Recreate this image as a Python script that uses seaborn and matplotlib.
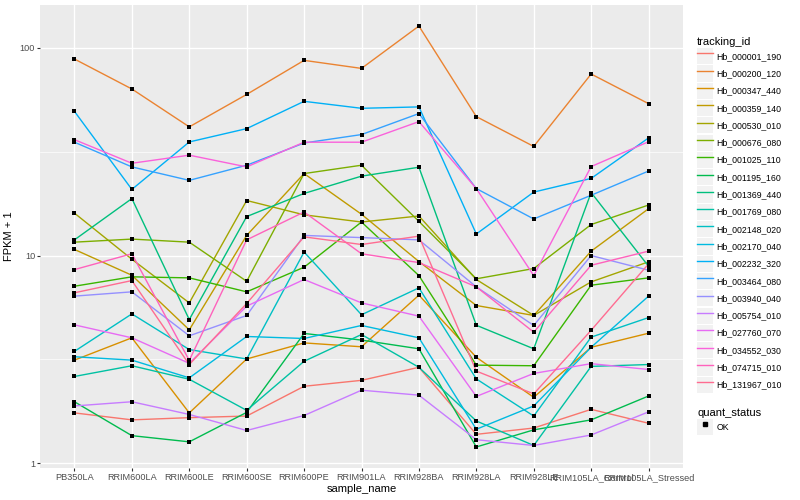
import numpy as np
import pandas as pd
import seaborn as sns
import matplotlib
matplotlib.use('Agg')
import matplotlib.pyplot as plt
from matplotlib.lines import Line2D
from matplotlib.patches import Rectangle
from matplotlib.legend_handler import HandlerLine2D
from matplotlib.ticker import FixedLocator, NullFormatter, NullLocator

# samples on the x axis
samples = ['PB350LA', 'RRIM600LA', 'RRIM600LE', 'RRIM600SE', 'RRIM600PE', 'RRIM901LA',
           'RRIM928BA', 'RRIM928LA', 'RRIM928LE', 'RRIM105LA_Control', 'RRIM105LA_Stressed']

# FPKM + 1 per gene
hb_000001_190 = [1.75, 1.62, 1.66, 1.69, 2.35, 2.51, 2.90, 1.38, 1.48, 1.82, 1.56]
hb_000200_120 = [88.2, 63.3, 41.6, 59.6, 86.9, 79.5, 127.1, 46.6, 33.5, 74.7, 53.8]
hb_000347_440 = [3.14, 4.02, 1.75, 3.18, 3.80, 3.64, 6.45, 3.24, 2.08, 3.62, 4.23]
hb_000359_140 = [10.7, 8.04, 4.39, 12.5, 24.8, 15.8, 9.36, 5.75, 5.15, 10.5, 16.8]
hb_000530_010 = [16.0, 9.60, 5.92, 18.4, 15.7, 14.5, 15.5, 7.67, 5.15, 7.47, 9.33]
hb_000676_080 = [11.6, 12.0, 11.6, 7.52, 24.8, 27.2, 14.6, 7.73, 8.66, 14.1, 17.5]
hb_001025_110 = [7.12, 7.90, 7.81, 6.69, 8.79, 14.5, 8.01, 2.97, 2.95, 7.20, 7.81]
hb_001195_160 = [1.98, 1.36, 1.27, 1.76, 4.22, 3.92, 3.56, 1.20, 1.45, 1.62, 2.11]
hb_001369_440 = [11.9, 18.8, 4.92, 15.4, 19.9, 24.1, 26.6, 4.62, 3.56, 20.1, 8.88]
hb_001769_080 = [2.62, 2.95, 2.54, 1.80, 3.10, 4.17, 2.90, 1.60, 1.22, 2.93, 2.99]
hb_002148_020 = [3.46, 5.24, 3.53, 3.18, 10.4, 5.19, 6.99, 2.55, 1.69, 4.05, 5.03]
hb_002170_040 = [3.26, 3.14, 2.58, 4.08, 3.99, 4.61, 4.02, 1.46, 1.89, 3.62, 6.38]
hb_002232_320 = [49.4, 20.8, 35.2, 40.8, 55.2, 51.1, 51.9, 12.7, 20.2, 23.5, 36.8]
hb_003464_080 = [35.1, 26.7, 23.0, 27.2, 34.8, 38.2, 48.2, 21.0, 15.0, 19.5, 25.5]
hb_003940_040 = [6.38, 6.69, 4.11, 5.15, 12.5, 12.2, 11.9, 7.07, 4.61, 10.0, 8.50]
hb_005754_010 = [1.89, 1.98, 1.72, 1.44, 1.70, 2.25, 2.13, 1.30, 1.22, 1.37, 1.77]
hb_027760_070 = [4.64, 4.02, 3.03, 5.71, 7.67, 5.92, 5.11, 2.10, 2.71, 3.02, 2.83]
hb_034552_030 = [36.1, 27.8, 30.4, 26.7, 35.1, 35.1, 44.1, 21.0, 8.01, 26.8, 35.3]
hb_074715_010 = [8.56, 10.2, 3.13, 11.9, 16.2, 10.2, 9.25, 7.07, 4.28, 8.98, 10.5]
hb_131967_010 = [6.62, 7.58, 2.99, 5.88, 12.3, 11.3, 12.4, 2.78, 2.16, 4.37, 9.12]

ids = ['Hb_000001_190', 'Hb_000200_120', 'Hb_000347_440', 'Hb_000359_140', 'Hb_000530_010',
       'Hb_000676_080', 'Hb_001025_110', 'Hb_001195_160', 'Hb_001369_440', 'Hb_001769_080',
       'Hb_002148_020', 'Hb_002170_040', 'Hb_002232_320', 'Hb_003464_080', 'Hb_003940_040',
       'Hb_005754_010', 'Hb_027760_070', 'Hb_034552_030', 'Hb_074715_010', 'Hb_131967_010']
series = [hb_000001_190, hb_000200_120, hb_000347_440, hb_000359_140, hb_000530_010,
          hb_000676_080, hb_001025_110, hb_001195_160, hb_001369_440, hb_001769_080,
          hb_002148_020, hb_002170_040, hb_002232_320, hb_003464_080, hb_003940_040,
          hb_005754_010, hb_027760_070, hb_034552_030, hb_074715_010, hb_131967_010]

# ggplot default hue palette for 20 levels
colors = ['#F8766D', '#EA8331', '#D89000', '#C09B00', '#A3A500', '#7CAE00', '#39B600',
          '#00BB4E', '#00BF7D', '#00C1A3', '#00BFC4', '#00BAE0', '#00B0F6', '#35A2FF',
          '#9590FF', '#C77CFF', '#E76BF3', '#FA62DB', '#FF62BC', '#FF6C91']

rows = []
for tid, vals in zip(ids, series):
    for s, v in zip(samples, vals):
        rows.append((tid, s, v, 'OK'))
df = pd.DataFrame(rows, columns=['tracking_id', 'sample_name', 'fpkm', 'quant_status'])

plt.rcParams['font.family'] = ['Liberation Sans', 'DejaVu Sans']

fig = plt.figure(figsize=(8, 5), dpi=100)
ax = fig.add_axes([40 / 800, 1 - 468 / 500, 643 / 800, 463 / 500])
ax.set_facecolor('#EBEBEB')

sns.lineplot(data=df, x='sample_name', y='fpkm', hue='tracking_id', hue_order=ids,
             palette=colors, sort=False, estimator=None, legend=False, lw=1.0, ax=ax)
sns.scatterplot(data=df, x='sample_name', y='fpkm', color='black', marker='s', s=9,
                linewidth=0, legend=False, zorder=3, ax=ax)

ax.set_yscale('log')
ax.margins(y=0.05)
ax.autoscale_view()
ax.set_xlim(-0.6, len(samples) - 0.4)

ax.set_yticks([1, 10, 100])
ax.set_yticklabels(['1', '10', '100'])
ax.yaxis.set_minor_locator(FixedLocator([10 ** 0.5, 10 ** 1.5]))
ax.yaxis.set_minor_formatter(NullFormatter())
ax.xaxis.set_minor_locator(NullLocator())

for sp in ax.spines.values():
    sp.set_visible(False)
ax.set_axisbelow(True)
ax.grid(True, which='major', color='white', lw=1.0)
ax.grid(True, which='minor', axis='y', color='white', lw=0.5)
ax.tick_params(which='major', length=2, width=0.8, color='#333333',
               labelcolor='#4D4D4D', labelsize=6.6, pad=1.5)
ax.tick_params(which='minor', length=0)

ax.set_xlabel('sample_name', fontsize=8, labelpad=1.5)
ax.set_ylabel('FPKM + 1', fontsize=8, labelpad=4)


class KeyBox(HandlerLine2D):
    def create_artists(self, legend, orig_handle, xdescent, ydescent, width, height, fontsize, trans):
        box = Rectangle((-xdescent, -ydescent), width, height, facecolor='#F2F2F2',
                        edgecolor='none', transform=trans)
        arts = super().create_artists(legend, orig_handle, xdescent, ydescent, width, height,
                                      fontsize, trans)
        return [box] + list(arts)


leg_opts = dict(loc='upper left', frameon=False, fontsize=6.3, title_fontsize=8,
                alignment='left', handlelength=1.8, handleheight=2.48, labelspacing=0.12,
                handletextpad=0.45, borderpad=0, borderaxespad=0,
                handler_map={Line2D: KeyBox()})

line_handles = [Line2D([], [], color=c, lw=1.0) for c in colors]
fig.legend(line_handles, ids, bbox_to_anchor=(697 / 800, 1 - 37 / 500),
           title='tracking_id', **leg_opts)

ok_handle = [Line2D([], [], color='black', marker='s', markersize=3.2, linestyle='none')]
fig.legend(ok_handle, ['OK'], bbox_to_anchor=(697 / 800, 1 - 408 / 500),
           title='quant_status', **leg_opts)

fig.savefig('out.png', dpi=100)
